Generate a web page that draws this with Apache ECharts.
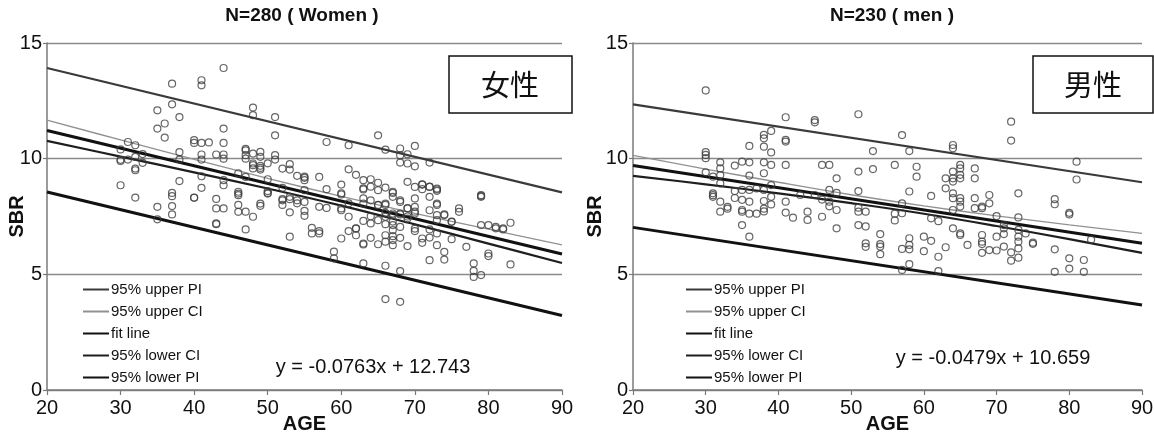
<!DOCTYPE html>
<html>
<head>
<meta charset="utf-8">
<script src="https://cdn.jsdelivr.net/npm/echarts@6/dist/echarts.min.js"></script>
<style>
  html, body { margin: 0; padding: 0; background: #fff; }
  #chart { width: 1154px; height: 436px; }
</style>
</head>
<body>
<div id="chart"></div>
<script>
// Panel titles, labels and regression equations
const panelTitles = ['N=280 ( Women )', 'N=230 ( men )'];
const panelTags = ['女性', '男性'];
const equations = ['y = -0.0763x + 12.743', 'y = -0.0479x + 10.659'];
const lineNames = ['95% upper PI', '95% upper CI', 'fit line', '95% lower CI', '95% lower PI'];

// Women: [age, SBR]
const womenPoints = [
  [30,10.4],[30,9.95],[30,9.9],[30,8.85],
  [31,10.72],[31,9.96],
  [32,10.58],[32,10.08],[32,9.57],[32,9.5],[32,8.32],
  [33,9.82],[33,10.2],
  [35,12.09],[35,11.3],[35,7.92],[35,7.38],
  [36,11.52],[36,10.91],
  [37,13.24],[37,12.35],[37,8.52],[37,8.38],[37,7.95],[37,7.59],
  [38,11.8],[38,10.28],[38,9.96],[38,9.03],
  [40,10.8],[40,10.68],[40,8.32],[40,8.31],
  [41,13.39],[41,13.17],[41,10.68],[41,10.18],[41,9.96],[41,9.24],[41,8.74],
  [42,10.7],
  [43,10.18],[43,8.26],[43,7.85],[43,7.2],[43,7.17],
  [44,13.92],[44,11.3],[44,10.68],[44,10.18],[44,10.0],[44,9.07],[44,8.85],[44,7.85],
  [46,9.36],[46,8.57],[46,8.49],[46,8.42],[46,8.0],[46,7.7],
  [47,10.42],[47,10.36],[47,10.15],[47,10.0],[47,9.21],[47,7.71],[47,6.94],
  [48,12.21],[48,11.88],[48,10.22],[48,9.79],[48,9.72],[48,9.58],[48,7.49],
  [49,10.29],[49,10.08],[49,9.69],[49,9.6],[49,9.53],[49,8.06],[49,7.96],
  [50,9.8],[50,9.11],[50,8.6],[50,8.52],[50,8.49],
  [51,11.8],[51,11.01],[51,10.15],[51,9.96],
  [52,9.57],[52,8.74],[52,8.25],[52,8.2],[52,8.0],
  [53,9.76],[53,9.53],[53,8.35],[53,8.25],[53,7.68],[53,6.63],
  [54,9.26],[54,8.2],[54,8.07],
  [55,9.22],[55,9.17],[55,9.07],[55,8.64],[55,8.13],[55,7.74],[55,7.53],
  [56,7.01],[56,6.77],
  [57,9.21],[57,7.92],[57,6.87],[57,6.77],
  [58,10.72],[58,8.68],[58,7.87],
  [59,5.98],[59,5.69],
  [60,8.88],[60,8.5],[60,8.45],[60,7.85],[60,7.77],[60,6.55],
  [61,10.58],[61,9.54],[61,8.07],[61,7.49],[61,6.87],
  [62,9.3],[62,6.99],[62,6.98],[62,6.69],
  [63,9.07],[63,8.72],[63,8.67],[63,8.28],[63,8.06],[63,7.31],[63,6.33],[63,6.29],[63,5.47],
  [64,9.11],[64,8.79],[64,8.2],[64,7.51],[64,7.2],[64,6.58],
  [65,11.01],[65,8.96],[65,8.64],[65,8.0],[65,7.99],[65,7.34],[65,6.3],
  [66,10.39],[66,8.75],[66,8.06],[66,8.0],[66,7.66],[66,7.49],[66,7.17],[66,6.69],[66,6.41],[66,5.37],[66,3.93],
  [67,8.57],[67,8.52],[67,8.35],[67,7.63],[67,7.56],[67,7.28],[67,7.13],[67,6.91],[67,6.65],[67,6.48],[67,6.26],
  [68,10.44],[68,10.15],[68,9.83],[68,8.2],[68,8.13],[68,7.63],[68,7.59],[68,7.05],[68,6.58],[68,5.14],[68,3.81],
  [69,10.19],[69,9.79],[69,9.0],[69,7.86],[69,7.85],[69,7.5],[69,7.41],[69,6.22],
  [70,10.55],[70,9.67],[70,8.78],[70,8.28],[70,7.92],[70,7.71],[70,7.63],[70,6.98],[70,6.87],
  [71,8.89],[71,8.88],[71,8.68],[71,6.55],[71,6.36],
  [72,9.83],[72,8.79],[72,8.78],[72,8.35],[72,7.77],[72,6.94],[72,6.59],[72,5.61],
  [73,8.71],[73,8.67],[73,8.61],[73,8.06],[73,8.0],[73,7.56],[73,7.34],[73,6.77],[73,6.26],
  [74,7.59],[74,7.56],[74,5.97],[74,5.64],
  [75,7.28],[75,7.27],[75,6.52],
  [76,7.85],[76,7.7],
  [77,6.19],
  [78,5.47],[78,5.15],[78,4.89],
  [79,8.42],[79,8.39],[79,8.35],[79,7.13],[79,4.97],
  [80,7.13],[80,5.9],[80,5.79],
  [81,7.05],[81,6.99],
  [82,6.94],[82,6.99],
  [83,7.23],[83,5.43]
];

// Men: [age, SBR]
const menPoints = [
  [30,12.95],[30,10.28],[30,10.16],[30,10.02],[30,9.41],
  [31,9.22],[31,8.5],[31,8.42],[31,8.35],
  [32,9.84],[32,9.58],[32,9.29],[32,8.93],[32,8.14],[32,7.71],
  [33,7.92],[33,7.84],
  [34,9.7],[34,8.6],[34,8.3],
  [35,9.87],[35,8.65],[35,8.22],[35,7.78],[35,7.71],[35,7.13],
  [36,10.55],[36,9.84],[36,9.27],[36,8.65],[36,8.14],[36,7.62],[36,6.63],
  [37,8.71],[37,7.62],
  [38,11.03],[38,10.88],[38,10.52],[38,9.84],[38,9.37],[38,8.65],[38,8.17],[38,7.84],[38,7.72],
  [39,11.2],[39,10.27],[39,9.73],[39,8.86],[39,8.35],[39,8.02],
  [41,11.79],[41,10.81],[41,10.74],[41,9.73],[41,8.14],[41,7.67],
  [42,7.45],
  [43,8.43],
  [44,7.71],[44,7.35],
  [45,11.67],[45,11.57],[45,8.43],
  [46,9.73],[46,8.23],[46,7.49],
  [47,9.73],[47,8.65],[47,8.14],[47,7.94],
  [48,9.15],[48,8.52],[48,7.78],[48,6.99],
  [51,11.92],[51,9.44],[51,8.6],[51,7.88],[51,7.71],[51,7.13],
  [52,7.71],[52,7.07],[52,6.34],[52,6.19],
  [53,10.33],[53,9.55],
  [54,6.74],[54,6.31],[54,6.2],[54,5.87],
  [56,9.73],[56,7.62],[56,7.33],
  [57,11.02],[57,8.07],[57,7.64],[57,6.1],[57,5.19],
  [58,10.33],[58,8.58],[58,6.56],[58,6.27],[58,6.08],[58,5.44],
  [59,9.65],[59,9.22],
  [60,6.63],[60,6.0],
  [61,8.39],[61,7.42],[61,6.45],
  [62,7.3],[62,5.76],[62,5.14],
  [63,9.15],[63,8.72],[63,6.17],
  [64,10.59],[64,10.45],[64,9.44],[64,9.15],[64,9.01],[64,8.5],[64,8.29],[64,7.78],[64,6.99],
  [65,9.73],[65,9.58],[65,9.3],[65,9.15],[65,8.29],[65,8.14],[65,7.93],[65,6.77],[65,6.7],
  [66,6.27],
  [67,9.58],[67,9.15],[67,8.29],[67,7.86],
  [68,7.93],[68,7.86],[68,6.7],[68,6.41],[68,6.31],[68,5.93],
  [69,8.43],[69,8.07],[69,6.05],
  [70,7.52],[70,6.63],[70,6.03],
  [71,7.13],[71,6.99],[71,6.74],[71,6.2],
  [72,11.6],[72,10.78],[72,5.95],[72,5.59],
  [73,8.5],[73,7.46],[73,6.92],[73,6.63],[73,6.41],[73,6.12],[73,5.72],
  [74,6.77],
  [75,6.37],[75,6.32],
  [78,8.25],[78,8.03],[78,6.08],[78,5.11],
  [80,7.66],[80,7.59],[80,5.69],[80,5.25],
  [81,9.87],[81,9.1],
  [82,5.62],[82,5.11],
  [83,6.5]
];

// Regression lines and bands: [age, SBR]
const womenUpperPI = [[20,13.92],[90,8.54]];
const womenUpperCI = [[20,11.67],[30,10.81],[40,9.97],[50,9.15],[60,8.37],[70,7.64],[80,6.95],[90,6.27]];
const womenFit     = [[20,11.217],[90,5.876]];
const womenLowerCI = [[20,10.77],[30,10.09],[40,9.41],[50,8.71],[60,7.97],[70,7.16],[80,6.33],[90,5.49]];
const womenLowerPI = [[20,8.56],[90,3.22]];

const menUpperPI = [[20,12.35],[90,8.98]];
const menUpperCI = [[20,10.14],[30,9.55],[40,8.98],[50,8.44],[60,7.96],[70,7.53],[80,7.14],[90,6.77]];
const menFit     = [[20,9.701],[90,6.348]];
const menLowerCI = [[20,9.26],[30,8.89],[40,8.50],[50,8.08],[60,7.62],[70,7.09],[80,6.52],[90,5.93]];
const menLowerPI = [[20,7.03],[90,3.67]];

const FONT = 'Liberation Sans, Arial, sans-serif';
const CJK = 'Noto Sans CJK JP, sans-serif';

const lineStyles = [
  { color: '#3a3a3a', width: 2.2 },
  { color: '#919191', width: 1.3 },
  { color: '#111111', width: 3 },
  { color: '#1e1e1e', width: 2.2 },
  { color: '#111111', width: 3 }
];

function bandSeries(axisIdx, sets) {
  return sets.map((data, i) => ({
    type: 'line',
    name: lineNames[i],
    xAxisIndex: axisIdx,
    yAxisIndex: axisIdx,
    data: data,
    symbol: 'none',
    smooth: data.length > 2 ? 0.4 : false,
    lineStyle: { color: lineStyles[i].color, width: lineStyles[i].width },
    itemStyle: { color: lineStyles[i].color },
    z: 3,
    silent: true
  }));
}

function scatterSeries(axisIdx, name, data) {
  return {
    type: 'scatter',
    name: name,
    xAxisIndex: axisIdx,
    yAxisIndex: axisIdx,
    data: data,
    symbol: 'circle',
    symbolSize: 7,
    itemStyle: { color: 'rgba(255,255,255,0)', borderColor: '#404040', borderWidth: 1.2 },
    z: 4,
    silent: true
  };
}

function xAxisOf(gridIndex, nameGap) {
  return {
    gridIndex: gridIndex,
    type: 'value',
    min: 20, max: 90, interval: 10,
    name: 'AGE',
    nameLocation: 'middle',
    nameGap: nameGap,
    nameMoveOverlap: false,
    nameTextStyle: { fontFamily: FONT, fontSize: 20, fontWeight: 'bold', color: '#111' },
    axisLine: { show: true, onZero: false, lineStyle: { color: '#7a7a7a', width: 1.5 } },
    axisTick: { show: true, length: 5, lineStyle: { color: '#7a7a7a', width: 1.2 } },
    axisLabel: { fontFamily: FONT, fontSize: 20, color: '#111', margin: 8 },
    splitLine: { show: false }
  };
}

function yAxisOf(gridIndex, nameGap) {
  return {
    gridIndex: gridIndex,
    type: 'value',
    min: 0, max: 15, interval: 5,
    name: 'SBR',
    nameLocation: 'middle',
    nameGap: nameGap,
    nameRotate: 90,
    nameMoveOverlap: false,
    nameTextStyle: { fontFamily: FONT, fontSize: 20, fontWeight: 'bold', color: '#111' },
    axisLine: { show: true, lineStyle: { color: '#7a7a7a', width: 1.5 } },
    axisTick: { show: true, length: 4, lineStyle: { color: '#7a7a7a', width: 1.2 } },
    axisLabel: { fontFamily: FONT, fontSize: 20, color: '#111', margin: 5 },
    splitLine: { show: true, lineStyle: { color: '#8a8a8a', width: 1.3 } }
  };
}

function legendOf(left) {
  return {
    left: left, top: 277,
    orient: 'vertical',
    selectedMode: false,
    itemWidth: 26, itemHeight: 14, itemGap: 7,
    // the legend shows only the line sample, no marker
    itemStyle: { opacity: 0 },
    textStyle: { fontFamily: FONT, fontSize: 15, color: '#111', padding: [0, 0, 0, -3] },
    data: lineNames
  };
}

function tagBox(x, w, textX, text) {
  return [
    { type: 'rect', shape: { x: x, y: 56, width: w, height: 57 },
      style: { fill: '#fff', stroke: '#111', lineWidth: 1.5 }, z: 10 },
    { type: 'text', x: textX, y: 85, z: 11,
      style: { text: text, font: '29px ' + CJK, fill: '#111', textAlign: 'center', textVerticalAlign: 'middle' } }
  ];
}

const chart = echarts.init(document.getElementById('chart'), null, { renderer: 'canvas' });
chart.setOption({
  animation: false,
  backgroundColor: '#fff',
  grid: [
    { left: 47, top: 43, width: 515, height: 347, containLabel: false, outerBoundsMode: 'none' },
    { left: 633, top: 43, width: 509, height: 347, containLabel: false, outerBoundsMode: 'none' }
  ],
  xAxis: [xAxisOf(0, 24), xAxisOf(1, 24)],
  yAxis: [yAxisOf(0, 20), yAxisOf(1, 28)],
  legend: [legendOf(77), legendOf(680)],
  graphic: [
    { type: 'text', x: 302, y: 16, style: { text: panelTitles[0], font: 'bold 19px ' + FONT, fill: '#111', textAlign: 'center', textVerticalAlign: 'middle' } },
    { type: 'text', x: 892, y: 16, style: { text: panelTitles[1], font: 'bold 19px ' + FONT, fill: '#111', textAlign: 'center', textVerticalAlign: 'middle' } },
    { type: 'text', x: 373, y: 367, z: 10, style: { text: equations[0], font: '20px ' + FONT, fill: '#111', textAlign: 'center', textVerticalAlign: 'middle' } },
    { type: 'text', x: 993, y: 358, z: 10, style: { text: equations[1], font: '20px ' + FONT, fill: '#111', textAlign: 'center', textVerticalAlign: 'middle' } },
    ...tagBox(449, 123, 510, panelTags[0]),
    ...tagBox(1033, 120, 1093, panelTags[1])
  ],
  series: [
    ...bandSeries(0, [womenUpperPI, womenUpperCI, womenFit, womenLowerCI, womenLowerPI]),
    scatterSeries(0, 'Women', womenPoints),
    ...bandSeries(1, [menUpperPI, menUpperCI, menFit, menLowerCI, menLowerPI]),
    scatterSeries(1, 'men', menPoints)
  ]
});
</script>
</body>
</html>
